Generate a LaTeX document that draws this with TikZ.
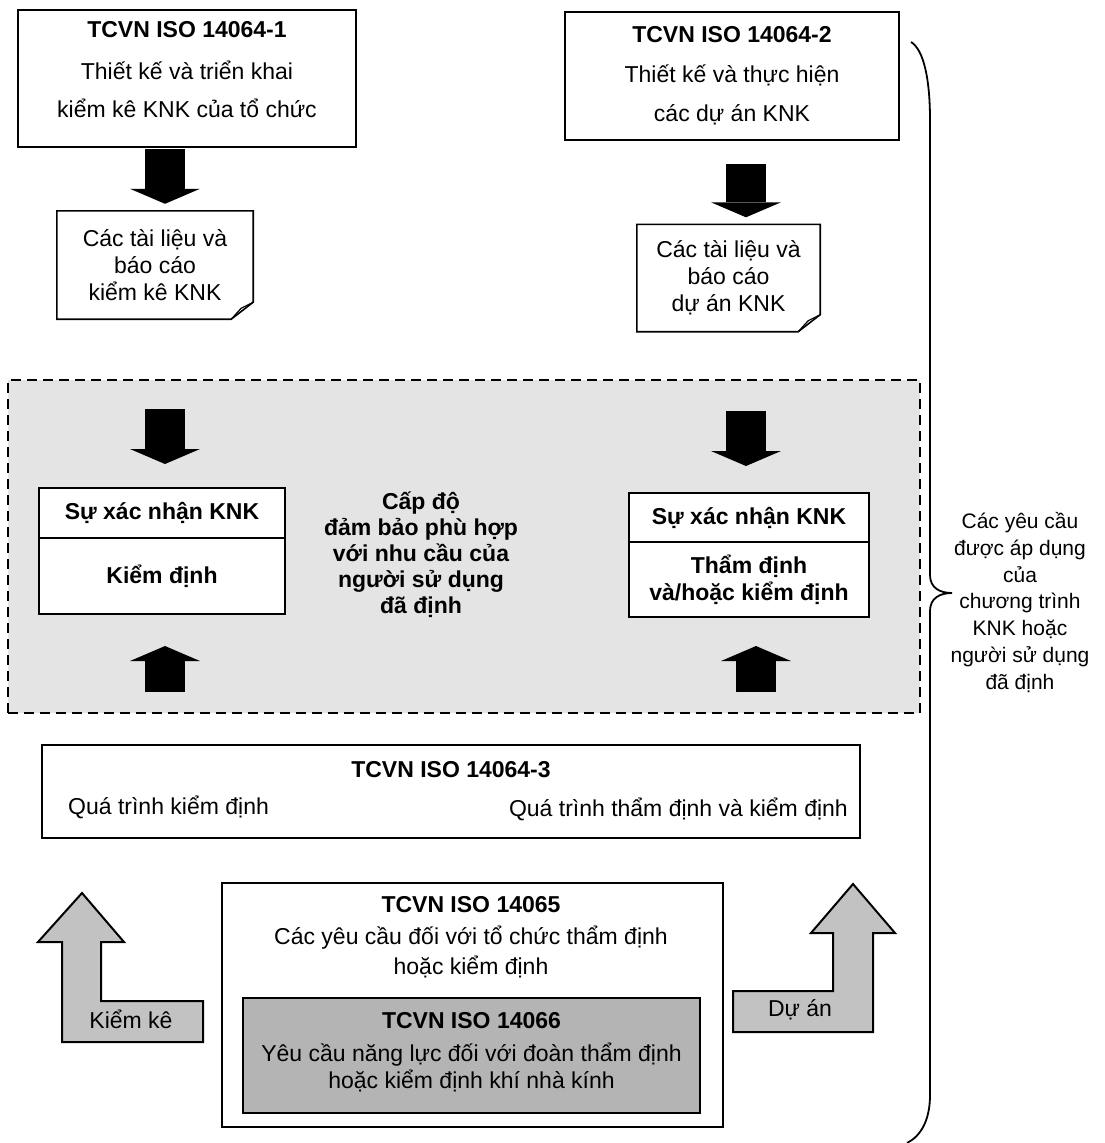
\documentclass[tikz,border=0pt]{standalone}
\usepackage{fontspec}
\setmainfont{Liberation Sans}
\usepackage{tikz}
\usetikzlibrary{arrows.meta,calc}

\definecolor{vungxam}{HTML}{E4E4E4}
\definecolor{muixam}{HTML}{C2C2C2}
\definecolor{hopxam}{HTML}{B4B4B4}

\begin{document}
\begin{tikzpicture}[x=1pt,y=-1pt,font=\fontsize{23}{27}\selectfont]
\tikzstyle{hop}=[draw=black,line width=2pt,fill=white,align=center,inner sep=0pt]
\tikzstyle{chu}=[align=center,inner sep=0pt]
\tikzstyle{muiden}=[line width=40pt,-{Triangle[length=15pt,width=70pt,line width=0pt]}]
\tikzstyle{muixamL}=[draw=black,line width=2pt,fill=muixam,line join=miter]

\useasboundingbox (0,0) rectangle (1105,1143);

% Cot cua cac mui ten den
\coordinate (cotT) at (165,0);
\coordinate (cotP) at (746,0);
\coordinate (cotP2) at (756,0);

% Hai tieu chuan phia tren
\node[hop,minimum width=338pt,minimum height=137pt] (std1) at (187,78.5) {};
\node[chu] (std1chu) at (187,70)
  {\textbf{TCVN ISO 14064-1}\\[15pt] Thiết kế và triển khai\\[11pt] kiểm kê KNK của tổ chức};
\node[hop,minimum width=334pt,minimum height=128pt] (std2) at (732,76)
  {\textbf{TCVN ISO 14064-2}\\[13pt] Thiết kế và thực hiện\\[12pt] các dự án KNK};

% Tai lieu
\node[chu,minimum width=196pt,minimum height=108pt] (docL) at (155,265)
  {Các tài liệu và\\ báo cáo\\ kiểm kê KNK};
\node[chu,minimum width=183pt,minimum height=107pt] (docR) at (728.5,278)
  {Các tài liệu và\\ báo cáo\\ dự án KNK};
\draw[line width=1.6pt] (docL.north west) -- (docL.north east) -- ([yshift=17pt]docL.south east)
  -- ([xshift=-22pt]docL.south east) -- (docL.south west) -- cycle;
\draw[line width=1.2pt] ([yshift=17pt]docL.south east) -- ([xshift=-12pt,yshift=11pt]docL.south east)
  -- ([xshift=-22pt]docL.south east);
\draw[line width=1.6pt] (docR.north west) -- (docR.north east) -- ([yshift=17pt]docR.south east)
  -- ([xshift=-22pt]docR.south east) -- (docR.south west) -- cycle;
\draw[line width=1.2pt] ([yshift=17pt]docR.south east) -- ([xshift=-12pt,yshift=11pt]docR.south east)
  -- ([xshift=-22pt]docR.south east);

% Vung xac nhan
\node[draw,dash pattern=on 10pt off 6pt,line width=2pt,fill=vungxam,inner sep=0pt,
  minimum width=912pt,minimum height=333pt] (vung) at (464,546.5) {};
\node[hop,font=\fontsize{23}{27}\selectfont\bfseries,minimum width=246pt,minimum height=50pt]
  (xnLtren) at (162,513) {Sự xác nhận KNK};
\node[hop,font=\fontsize{23}{27}\selectfont\bfseries,minimum width=246pt,minimum height=76pt]
  (xnLduoi) at (162,576) {Kiểm định};
\node[hop,font=\fontsize{23}{27}\selectfont\bfseries,minimum width=240pt,minimum height=49pt]
  (xnRtren) at (749,517.5) {Sự xác nhận KNK};
\node[hop,font=\fontsize{23}{27}\selectfont\bfseries,minimum width=240pt,minimum height=75pt]
  (xnRduoi) at (749,579.5) {Thẩm định\\ và/hoặc kiểm định};
\node[chu,font=\fontsize{23}{26}\selectfont\bfseries] (capdo) at (421,555)
  {Cấp độ\\ đảm bảo phù hợp\\ với nhu cầu của\\ người sử dụng\\ đã định};

% TCVN ISO 14064-3
\node[hop,minimum width=818pt,minimum height=93pt] (std3) at (451,791.5) {};
\node[chu,font=\fontsize{23}{27}\selectfont\bfseries] (std3ten) at (451,770) {TCVN ISO 14064-3};
\node[chu,anchor=mid west] (qtL) at (68,812) {Quá trình kiểm định};
\node[chu,anchor=mid east] (qtR) at (848,814) {Quá trình thẩm định và kiểm định};

% Mui ten den
\draw[muiden,shorten <=1pt,shorten >=7pt] (std1.south -| cotT) -- (docL.north -| cotT);
\draw[muiden,shorten <=23pt,shorten >=7pt] (std2.south -| cotP) -- (docR.north -| cotP);
\draw[muiden,shorten <=90pt,shorten >=23pt] (docL.south -| cotT) -- (xnLtren.north -| cotT);
\draw[muiden,shorten <=79pt,shorten >=26pt] (docR.south -| cotP) -- (xnRtren.north -| cotP);
\draw[muiden,shorten <=52pt,shorten >=31pt] (std3.north -| cotT) -- (xnLduoi.south -| cotT);
\draw[muiden,shorten <=52pt,shorten >=28pt] (std3.north -| cotP2) -- (xnRduoi.south -| cotP2);

% TCVN ISO 14065 va 14066
\node[hop,minimum width=501pt,minimum height=244pt] (std4) at (472.5,1005) {};
\node[chu] (std4chu) at (471,937)
  {\textbf{TCVN ISO 14065}\\[5pt] Các yêu cầu đối với tổ chức thẩm định\\[3pt] hoặc kiểm định};
\node[hop,fill=hopxam,minimum width=457pt,minimum height=115pt] (std5) at (471.5,1055.5) {};
\node[chu] (std5chu) at (471.5,1052)
  {\textbf{TCVN ISO 14066}\\[6pt] Yêu cầu năng lực đối với đoàn thẩm định\\ hoặc kiểm định khí nhà kính};

% Mui ten xam
\draw[muixamL] (82,893) -- (124,942) -- (101,942) -- (101,1001) -- (203,1001) -- (203,1042)
  -- (62,1042) -- (62,942) -- (38,942) -- cycle;
\node[chu] (nhanKK) at (131,1019) {Kiểm kê};
\draw[muixamL] (853,884) -- (895,933) -- (873,933) -- (873,1032) -- (733,1032) -- (733,991)
  -- (833,991) -- (833,933) -- (811,933) -- cycle;
\node[chu] (nhanDA) at (800,1010) {Dự án};

% Ngoac nhon
\draw[line width=1.8pt] (911,42) .. controls (924,50) and (930,80) .. (930,120) -- (930,575)
  .. controls (930,588) and (940,593) .. (952,593) .. controls (940,593) and (930,598) .. (930,611)
  -- (930,1095) .. controls (930,1120) and (921,1136) .. (907,1143);
\node[chu,font=\fontsize{21}{26.8}\selectfont] (yeucau) at (1020,602.5)
  {Các yêu cầu\\ được áp dụng\\ của\\ chương trình\\ KNK hoặc\\ người sử dụng\\ đã định};
\end{tikzpicture}
\end{document}
